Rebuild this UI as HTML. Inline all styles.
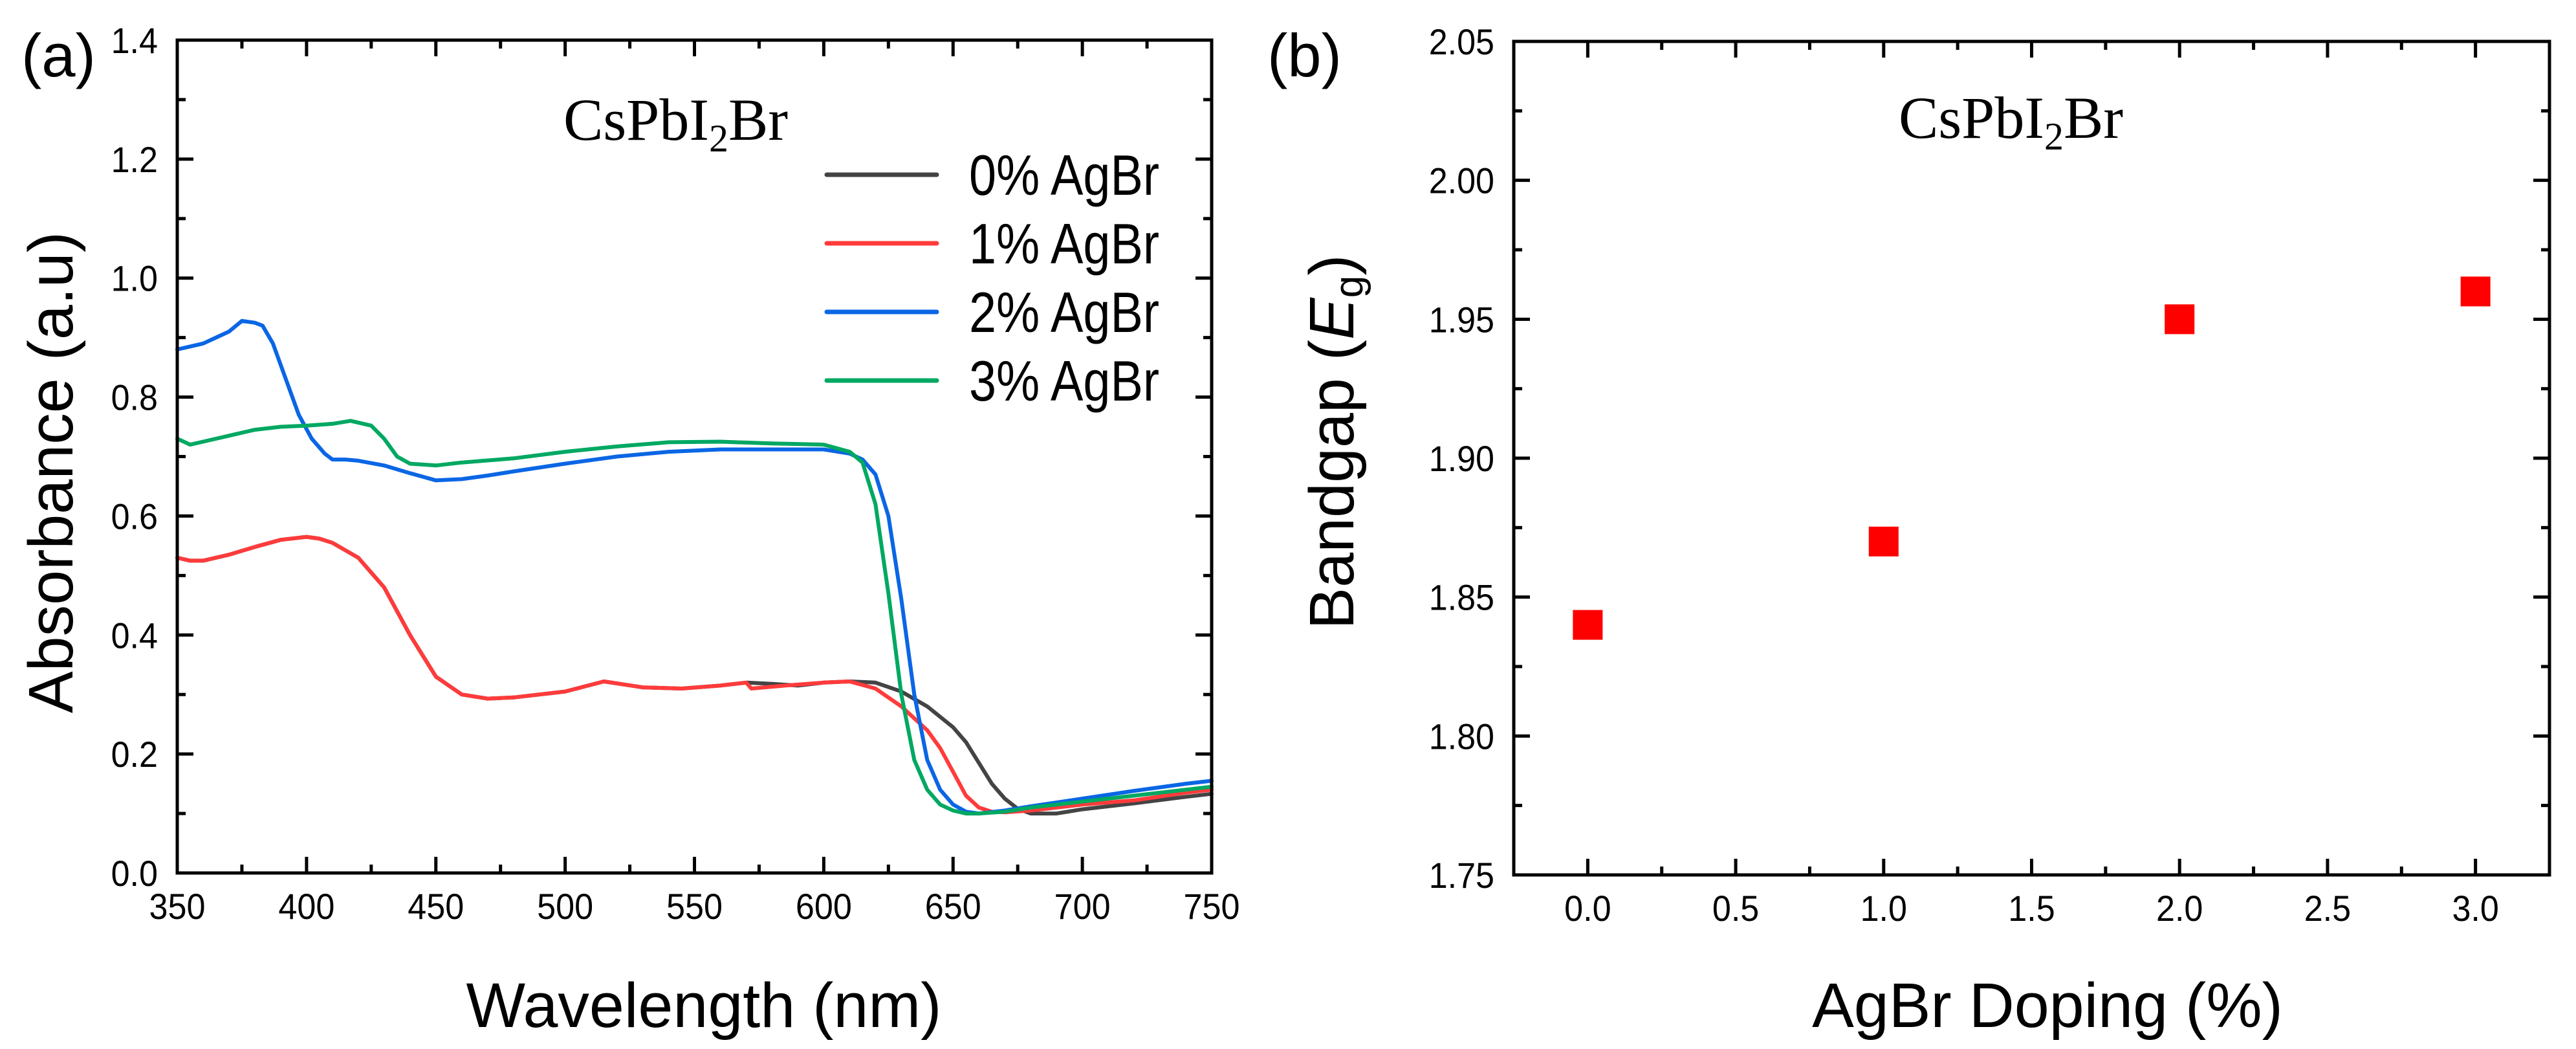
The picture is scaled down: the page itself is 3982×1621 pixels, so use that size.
<!DOCTYPE html>
<html><head><meta charset="utf-8"><title>CsPbI2Br absorbance and bandgap</title>
<style>
html,body{margin:0;padding:0;background:#fff;}
svg{display:block;}
text{font-family:"Liberation Sans",Arial,sans-serif;fill:#000;}
.serif{font-family:"Liberation Serif","Times New Roman",serif;}
</style></head>
<body>
<svg id="fig" width="3982" height="1621" viewBox="0 0 3982 1621" xmlns="http://www.w3.org/2000/svg">
  <g id="panelA"></g>
  <g id="panelB"></g>
</svg>
<script>
// ---------- Panel (a) data ----------
const wl0 = [350,355,360,370,380,390,400,405,410,420,430,440,450,460,470,480,500,515,530,545,560,570,580,590,600,610,620,630,640,650,655,660,665,670,675,680,690,700,720,740,750];
const abs0 = [0.53,0.525,0.525,0.535,0.548,0.56,0.565,0.562,0.555,0.53,0.48,0.40,0.33,0.30,0.293,0.295,0.305,0.322,0.312,0.31,0.315,0.32,0.318,0.315,0.32,0.322,0.32,0.305,0.28,0.245,0.22,0.185,0.15,0.125,0.108,0.10,0.10,0.107,0.117,0.128,0.133];
const wl1 = [350,355,360,370,380,390,400,405,410,420,430,440,450,460,470,480,500,515,530,545,560,570,572,585,600,610,620,630,640,645,650,655,660,665,670,680,700,720,740,750];
const abs1 = [0.53,0.525,0.525,0.535,0.548,0.56,0.565,0.562,0.555,0.53,0.48,0.40,0.33,0.30,0.293,0.295,0.305,0.322,0.312,0.31,0.315,0.32,0.31,0.315,0.32,0.322,0.31,0.28,0.24,0.21,0.17,0.13,0.11,0.103,0.102,0.105,0.115,0.122,0.135,0.14];
const wl2 = [350,355,360,365,370,375,380,383,387,392,397,402,407,410,415,420,430,440,450,460,470,480,500,520,540,560,580,600,610,615,620,625,630,635,640,645,650,655,660,670,680,700,720,740,750];
const abs2 = [0.88,0.885,0.89,0.90,0.91,0.928,0.925,0.92,0.89,0.83,0.77,0.73,0.705,0.695,0.695,0.693,0.685,0.672,0.66,0.662,0.668,0.675,0.688,0.70,0.708,0.712,0.712,0.712,0.705,0.695,0.67,0.60,0.46,0.30,0.19,0.14,0.115,0.103,0.10,0.105,0.112,0.125,0.138,0.15,0.155];
const wl3 = [350,355,360,370,380,390,400,410,417,425,430,435,440,450,460,480,500,520,540,560,580,600,610,615,620,625,630,635,640,645,650,655,660,670,680,700,720,740,750];
const abs3 = [0.73,0.72,0.725,0.735,0.745,0.75,0.752,0.755,0.76,0.752,0.73,0.70,0.688,0.685,0.69,0.697,0.708,0.717,0.724,0.725,0.722,0.72,0.708,0.69,0.62,0.47,0.30,0.19,0.14,0.115,0.105,0.10,0.10,0.103,0.11,0.12,0.13,0.14,0.145];
const seriesLabels = ["0% AgBr","1% AgBr","2% AgBr","3% AgBr"];
const xTicksA = ["350","400","450","500","550","600","650","700","750"];
const yTicksA = ["0.0","0.2","0.4","0.6","0.8","1.0","1.2","1.4"];

// ---------- Panel (b) data ----------
const doping = [0,1,2,3];
const bandgap = [1.84,1.87,1.95,1.96];
const xTicksB = ["0.0","0.5","1.0","1.5","2.0","2.5","3.0"];
const yTicksB = ["1.75","1.80","1.85","1.90","1.95","2.00","2.05"];

const NS = "http://www.w3.org/2000/svg";
const TFS = 56;
function mk(parent, tag, attrs, txt){
  const e = document.createElementNS(NS, tag);
  for (const k in attrs) e.setAttribute(k, attrs[k]);
  if (txt !== undefined) e.textContent = txt;
  parent.appendChild(e);
  return e;
}
function tickW(s){
  let w = 0;
  for (const c of s) w += (c === '.') ? 0.278 : 0.556;
  return (w * TFS * 0.93).toFixed(1);
}

// ===== Panel A =====
const A = {L:274, R:1873, T:62, B:1349, x0:350, x1:750, y0:0, y1:1.4};
const ax = v => A.L + (v - A.x0) / (A.x1 - A.x0) * (A.R - A.L);
const ay = v => A.B - (v - A.y0) / (A.y1 - A.y0) * (A.B - A.T);
const pA = document.getElementById('panelA');

const colors = ["#444444","#ff3b3b","#0a66e4","#00a862"];
const wls = [wl0, wl1, wl2, wl3];
const abss = [abs0, abs1, abs2, abs3];
const curveNames = ['curve-0pct','curve-1pct','curve-2pct','curve-3pct'];
for (let s = 0; s < 4; s++) {
  const d = wls[s].map((w, i) => (i ? 'L' : 'M') + ax(w).toFixed(1) + ' ' + ay(abss[s][i]).toFixed(1)).join(' ');
  const p = mk(pA, 'path', {d: d, fill: 'none', stroke: colors[s], 'stroke-width': 6, 'stroke-linejoin': 'round', 'stroke-linecap': 'round'});
  
  
}

const frA = mk(pA, 'rect', {x: A.L, y: A.T, width: A.R - A.L, height: A.B - A.T, fill: 'none', stroke: '#000', 'stroke-width': 5});



for (let v = 350; v <= 750; v += 25) {
  const major = (v % 50 === 0);
  const len = major ? 25 : 13;
  const x = ax(v);
  mk(pA, 'line', {x1: x, y1: A.B, x2: x, y2: A.B - len, stroke: '#000', 'stroke-width': 5});
  mk(pA, 'line', {x1: x, y1: A.T, x2: x, y2: A.T + len, stroke: '#000', 'stroke-width': 5});
}
xTicksA.forEach(lbl => {
  const t = mk(pA, 'text', {x: ax(+lbl), y: 1420, 'font-size': TFS, 'text-anchor': 'middle', textLength: tickW(lbl), lengthAdjust: 'spacingAndGlyphs'}, lbl);
  
  
});
for (let i = 0; i <= 14; i++) {
  const v = i / 10;
  const major = (i % 2 === 0);
  const len = major ? 25 : 13;
  const y = ay(v);
  mk(pA, 'line', {x1: A.L, y1: y, x2: A.L + len, y2: y, stroke: '#000', 'stroke-width': 5});
  mk(pA, 'line', {x1: A.R, y1: y, x2: A.R - len, y2: y, stroke: '#000', 'stroke-width': 5});
}
yTicksA.forEach(lbl => {
  const t = mk(pA, 'text', {x: 244, y: ay(+lbl) + 20, 'font-size': TFS, 'text-anchor': 'end', textLength: tickW(lbl), lengthAdjust: 'spacingAndGlyphs'}, lbl);
  
  
});

for (let s = 0; s < 4; s++) {
  const y = 270 + s * 106;
  const g = mk(pA, 'g', {});
  
  
  mk(g, 'line', {x1: 1278, y1: y, x2: 1448, y2: y, stroke: colors[s], 'stroke-width': 7, 'stroke-linecap': 'round'});
  mk(g, 'text', {x: 1498, y: y + 31, 'font-size': 88, textLength: 294, lengthAdjust: 'spacingAndGlyphs'}, seriesLabels[s]);
}
</script>

<script>
(function(){
  const pA = document.getElementById('panelA');
  pA.insertAdjacentHTML('beforeend',
    '<text x="33" y="118" font-size="94">(a)</text>' +
    '<text class="serif" x="871" y="216" font-size="92">CsPbI<tspan font-size="60" dy="18">2</tspan><tspan dy="-18">Br</tspan></text>' +
    '<text x="1088" y="1587" font-size="97" text-anchor="middle">Wavelength (nm)</text>' +
    '<text transform="translate(112,730) rotate(-90)" font-size="97" text-anchor="middle">Absorbance (a.u)</text>');
})();

// ===== Panel B =====
const B = {L:2340, R:3941, T:64, B:1352, x0:-0.25, x1:3.25, y0:1.75, y1:2.05};
const bx = v => B.L + (v - B.x0) / (B.x1 - B.x0) * (B.R - B.L);
const by = v => B.B - (v - B.y0) / (B.y1 - B.y0) * (B.B - B.T);
const pB = document.getElementById('panelB');

const frB = mk(pB, 'rect', {x: B.L, y: B.T, width: B.R - B.L, height: B.B - B.T, fill: 'none', stroke: '#000', 'stroke-width': 5});



for (let i = -1; i <= 13; i++) {
  const v = i * 0.25;
  const major = (i % 2 === 0);
  const len = major ? 25 : 13;
  const x = bx(v);
  mk(pB, 'line', {x1: x, y1: B.B, x2: x, y2: B.B - len, stroke: '#000', 'stroke-width': 5});
  mk(pB, 'line', {x1: x, y1: B.T, x2: x, y2: B.T + len, stroke: '#000', 'stroke-width': 5});
}
xTicksB.forEach(lbl => {
  const t = mk(pB, 'text', {x: bx(+lbl), y: 1423, 'font-size': TFS, 'text-anchor': 'middle', textLength: tickW(lbl), lengthAdjust: 'spacingAndGlyphs'}, lbl);
  
  
});
for (let i = 0; i <= 12; i++) {
  const v = 1.75 + i * 0.025;
  const major = (i % 2 === 0);
  const len = major ? 25 : 13;
  const y = by(v);
  mk(pB, 'line', {x1: B.L, y1: y, x2: B.L + len, y2: y, stroke: '#000', 'stroke-width': 5});
  mk(pB, 'line', {x1: B.R, y1: y, x2: B.R - len, y2: y, stroke: '#000', 'stroke-width': 5});
}
yTicksB.forEach(lbl => {
  const t = mk(pB, 'text', {x: 2310, y: by(+lbl) + 20, 'font-size': TFS, 'text-anchor': 'end', textLength: tickW(lbl), lengthAdjust: 'spacingAndGlyphs'}, lbl);
  
  
});
doping.forEach((d, i) => {
  const r = mk(pB, 'rect', {x: bx(d) - 23, y: by(bandgap[i]) - 23, width: 46, height: 46, fill: '#ff0000'});
  
  
});
pB.insertAdjacentHTML('beforeend',
  '<text x="1959" y="118" font-size="94">(b)</text>' +
  '<text class="serif" x="2935" y="213" font-size="92">CsPbI<tspan font-size="60" dy="18">2</tspan><tspan dy="-18">Br</tspan></text>' +
  '<text x="3165" y="1587" font-size="97" text-anchor="middle">AgBr Doping (%)</text>' +
  '<text transform="translate(2092,683) rotate(-90)" font-size="97" text-anchor="middle">Bandgap (<tspan font-style="italic">E</tspan><tspan font-size="62" dy="14">g</tspan><tspan dy="-14">)</tspan></text>');
</script>
</body></html>
